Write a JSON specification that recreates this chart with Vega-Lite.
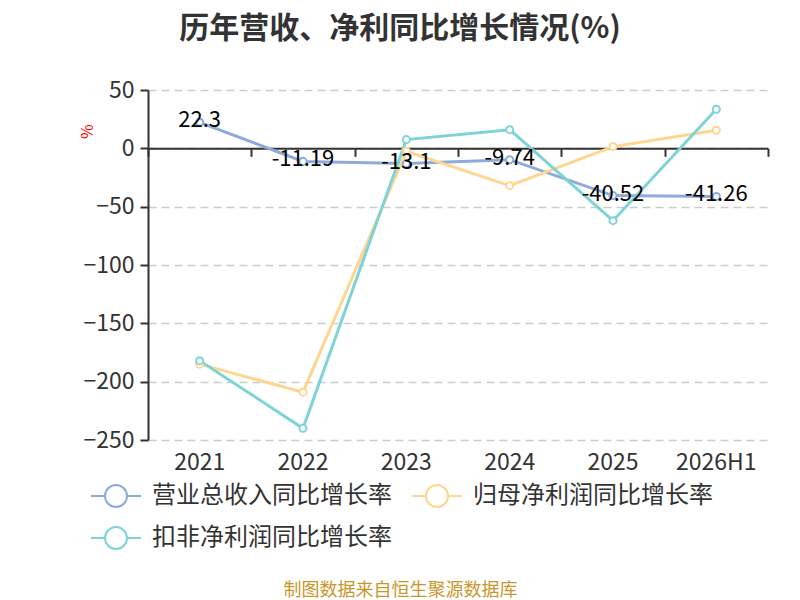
{
  "$schema": "https://vega.github.io/schema/vega-lite/v6.json",
  "width": 620,
  "height": 350,
  "autosize": "none",
  "padding": {"left": 148, "top": 90, "right": 32, "bottom": 160},
  "background": "white",
  "config": {
    "font": "Noto Sans CJK SC",
    "view": {"stroke": null}
  },
  "title": {
    "text": "历年营收、净利同比增长情况(%)",
    "fontSize": 30,
    "fontWeight": "bold",
    "color": "#333333",
    "anchor": "middle",
    "dx": -58,
    "offset": 35
  },
  "data": {
    "values": [
      {"year": "2021", "series": "营业总收入同比增长率", "value": 22.3},
      {"year": "2022", "series": "营业总收入同比增长率", "value": -11.19},
      {"year": "2023", "series": "营业总收入同比增长率", "value": -13.1},
      {"year": "2024", "series": "营业总收入同比增长率", "value": -9.74},
      {"year": "2025", "series": "营业总收入同比增长率", "value": -40.52},
      {"year": "2026H1", "series": "营业总收入同比增长率", "value": -41.26},
      {"year": "2021", "series": "归母净利润同比增长率", "value": -185},
      {"year": "2022", "series": "归母净利润同比增长率", "value": -209},
      {"year": "2023", "series": "归母净利润同比增长率", "value": -2.5},
      {"year": "2024", "series": "归母净利润同比增长率", "value": -32},
      {"year": "2025", "series": "归母净利润同比增长率", "value": 1.5},
      {"year": "2026H1", "series": "归母净利润同比增长率", "value": 15.5},
      {"year": "2021", "series": "扣非净利润同比增长率", "value": -182},
      {"year": "2022", "series": "扣非净利润同比增长率", "value": -240},
      {"year": "2023", "series": "扣非净利润同比增长率", "value": 7.5},
      {"year": "2024", "series": "扣非净利润同比增长率", "value": 16},
      {"year": "2025", "series": "扣非净利润同比增长率", "value": -62},
      {"year": "2026H1", "series": "扣非净利润同比增长率", "value": 33.5}
    ]
  },
  "encoding": {
    "y": {
      "field": "value",
      "type": "quantitative",
      "scale": {"domain": [-250, 50], "nice": false, "zero": false},
      "axis": {
        "values": [-250, -200, -150, -100, -50, 0, 50],
        "domainColor": "#333333",
        "domainWidth": 2,
        "tickColor": "#333333",
        "tickWidth": 2,
        "tickSize": 8,
        "labelFontSize": 23,
        "labelColor": "#333333",
        "labelPadding": 6,
        "grid": true,
        "gridColor": "#cccccc",
        "gridDash": [8, 5],
        "gridWidth": 1.5,
        "title": "%",
        "titleColor": "#ff0000",
        "titleFontSize": 16,
        "titleFontWeight": "normal",
        "titleX": -61,
        "titleY": 41,
        "titleAlign": "center",
        "titleBaseline": "middle"
      }
    },
    "color": {
      "field": "series",
      "type": "nominal",
      "scale": {
        "domain": ["营业总收入同比增长率", "归母净利润同比增长率", "扣非净利润同比增长率"],
        "range": ["#8eaadb", "#ffd591", "#7fd3d6"]
      },
      "legend": null
    }
  },
  "layer": [
    {
      "mark": {"type": "line", "strokeWidth": 3},
      "encoding": {
        "x": {
          "field": "year",
          "type": "ordinal",
          "bandPosition": 0.5,
          "scale": {"type": "band", "paddingInner": 0, "paddingOuter": 0},
          "axis": {
            "orient": "bottom",
            "offset": -291.67,
            "domain": true,
            "domainColor": "#333333",
            "domainWidth": 2,
            "ticks": true,
            "tickBand": "extent",
            "tickColor": "#333333",
            "tickWidth": 2,
            "tickSize": 8,
            "labels": false,
            "grid": false,
            "title": null
          }
        },
        "color": {
          "field": "series",
          "type": "nominal",
          "legend": {
            "orient": "none",
            "legendX": -44,
            "legendY": 394,
            "direction": "horizontal",
            "columns": 2,
            "title": null,
            "padding": 0,
            "symbolType": "M-2.5,0L-1.1,0M1.1,0L2.5,0M1.1,0A1.1,1.1,0,1,1,-1.1,0A1.1,1.1,0,1,1,1.1,0",
            "symbolSize": 400,
            "symbolStrokeWidth": 2,
            "symbolFillColor": "transparent",
            "labelFontSize": 24,
            "labelColor": "#333333",
            "labelOffset": 24,
            "labelLimit": 0,
            "columnPadding": 16,
            "rowPadding": 12
          }
        }
      }
    },
    {
      "mark": {"type": "point", "filled": false, "fill": "white", "fillOpacity": 1, "size": 50, "strokeWidth": 2, "opacity": 1},
      "encoding": {
        "x": {
          "field": "year",
          "type": "ordinal",
          "bandPosition": 0.5,
          "axis": {
            "orient": "bottom",
            "domain": false,
            "ticks": false,
            "tickSize": 0,
            "labelAngle": 0,
            "labelFontSize": 23,
            "labelColor": "#333333",
            "labelPadding": 11,
            "grid": false,
            "title": "制图数据来自恒生聚源数据库",
            "titleFontSize": 18,
            "titleFontWeight": "normal",
            "titleColor": "#c9962b",
            "titleX": 252,
            "titleY": 150,
            "titleAlign": "center",
            "titleBaseline": "middle"
          }
        }
      }
    },
    {
      "transform": [{"filter": "datum.series === '营业总收入同比增长率'"}],
      "mark": {"type": "text", "fontSize": 22, "color": "#000000", "baseline": "middle", "dy": -2},
      "encoding": {
        "x": {"field": "year", "type": "ordinal", "bandPosition": 0.5, "axis": null},
        "text": {"field": "value", "type": "nominal"},
        "color": {"value": "#000000"}
      }
    }
  ],
  "resolve": {"axis": {"x": "independent"}}
}
